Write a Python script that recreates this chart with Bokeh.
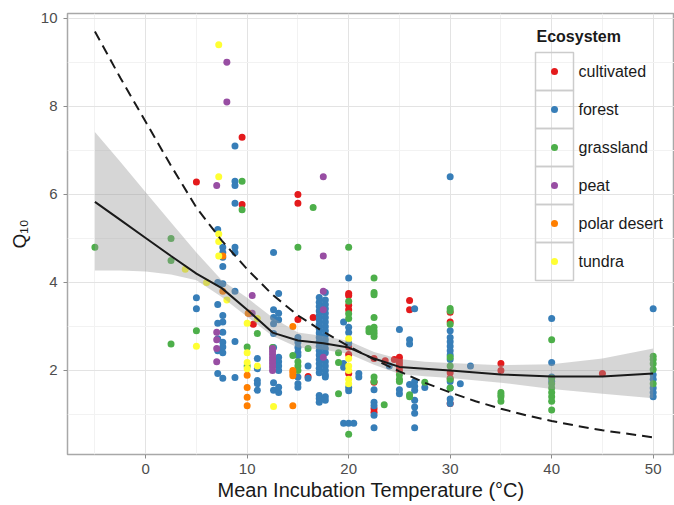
from bokeh.plotting import figure
from bokeh.models import FixedTicker, Range1d
from bokeh.embed import file_html
from bokeh.resources import INLINE
from bokeh.core.properties import value

# ---------------- data ----------------
categories = ["cultivated", "forest", "grassland", "peat", "polar desert", "tundra"]
colors = ["#E41A1C", "#377EB8", "#4DAF4A", "#984EA3", "#FF7F00", "#FFFF33"]

# temperature -> list of Q10 values, one dict per ecosystem
cultivated = {
    5.0: [6.28], 9.5: [7.3, 5.77], 10.2: [3.3], 10.6: [3.05],
    15.0: [6.0, 5.8, 3.16], 16.0: [1.86], 16.5: [3.2],
    20.0: [3.75, 3.7, 3.48, 3.38, 2.53, 2.36, 1.93],
    22.5: [2.27, 1.73, 1.13, 1.05], 23.6: [2.22], 24.5: [2.25],
    25.0: [2.3, 2.22, 2.15, 2.08, 2.0], 26.0: [3.59, 3.38],
    30.0: [3.32, 3.1, 1.95, 1.82, 1.25], 35.0: [2.16, 2.0], 45.0: [1.93],
}
forest = {
    5.0: [3.65, 3.4],
    7.1: [5.2, 4.0, 3.5, 3.07, 2.72, 2.45, 1.93],
    7.6: [4.8, 4.68, 4.57, 4.36, 3.97, 3.25, 3.1, 2.87, 2.64, 2.53, 2.4, 1.82],
    8.8: [7.1, 6.3, 6.2, 5.8, 4.8, 4.68, 3.8, 2.66, 1.84],
    11.0: [2.27, 2.04, 1.77, 1.7, 1.55],
    12.6: [4.68, 3.38, 3.2, 3.06, 2.84, 2.52, 2.22, 1.72, 1.55],
    13.1: [3.75, 3.3, 3.15, 2.3, 2.2, 2.1, 2.0, 1.62, 1.5],
    15.0: [2.75, 2.64, 2.52, 2.41, 2.34, 1.85, 1.7, 1.62],
    16.0: [2.1, 1.82],
    17.1: [3.66, 3.55, 3.45, 3.35, 3.25, 3.15, 3.05, 2.95, 2.85, 2.75, 2.65,
           2.55, 2.45, 2.35, 2.25, 2.15, 2.05, 1.95, 1.43, 1.36, 1.28],
    17.7: [3.77, 3.6, 3.5, 3.4, 3.3, 3.2, 3.1, 3.0, 2.9, 2.8, 2.7, 2.6, 2.5,
           2.4, 2.2, 2.1, 2.0, 1.9, 1.85, 1.4, 1.32],
    19.5: [3.1, 2.16, 2.07, 0.8],
    20.0: [4.1, 2.98, 2.86, 2.62, 1.61, 1.54, 0.8],
    20.5: [0.8], 21.0: [1.93, 1.85],
    22.5: [1.56, 1.28, 1.2, 0.98, 0.7], 24.0: [2.1],
    25.0: [2.93, 1.56, 1.47], 26.0: [2.7, 2.6, 1.68],
    26.5: [3.4, 1.75, 1.64, 1.55, 1.32, 1.17, 1.03, 0.7], 27.5: [1.61],
    30.0: [6.4, 2.9, 2.75, 2.65, 2.55, 2.45, 2.35, 2.25, 1.75, 1.6, 1.35, 1.25],
    31.0: [1.7], 32.0: [2.1],
    40.0: [3.18, 2.18, 1.85, 1.75],
    50.0: [3.4, 1.9, 1.8, 1.6, 1.5, 1.4],
}
grassland = {
    -5.0: [4.8], 2.5: [5.0, 4.5, 2.6], 5.0: [2.9], 9.5: [6.3, 5.65],
    10.0: [2.53, 2.1], 11.0: [2.84], 12.5: [2.52], 14.5: [2.34],
    15.0: [4.8, 2.2, 2.1, 2.0], 16.0: [2.5], 16.5: [5.7], 19.0: [2.4, 2.18, 1.47],
    20.0: [4.8, 3.57, 3.29, 3.18, 0.55],
    22.0: [2.95, 2.88],
    22.5: [4.1, 3.77, 3.72, 3.2, 2.98, 2.9, 2.84, 2.77, 1.85, 1.75],
    23.5: [1.22], 25.0: [1.9, 1.8, 1.75], 26.0: [1.45, 1.4], 27.5: [1.73],
    30.0: [3.41, 3.35, 3.05, 2.3, 2.1, 1.8, 1.6],
    35.0: [1.5, 1.45, 1.4, 1.3],
    40.0: [2.7, 1.82, 1.7, 1.6, 1.5, 1.4, 1.3, 1.1],
    50.0: [2.32, 2.25, 2.15, 2.02, 1.7],
}
peat = {
    7.0: [6.2, 2.87, 2.7, 2.5, 2.2], 8.0: [9.0, 8.1], 10.5: [3.7, 3.3],
    12.5: [2.5, 2.43, 2.36, 2.29, 2.22, 2.15, 2.08, 2.0],
    17.5: [6.4, 4.6, 3.8, 3.38, 2.3],
}
polar_desert = {
    7.6: [4.6, 3.8], 10.0: [1.89, 1.61, 1.39, 1.2], 10.1: [3.3],
    14.5: [3.0, 2.0, 1.95, 1.88, 1.2],
}
tundra = {
    3.9: [4.3], 5.0: [2.55], 6.0: [4.0], 7.2: [9.4, 6.4, 5.1, 4.93, 4.6],
    8.0: [3.6], 10.0: [3.07, 2.4, 2.18, 2.04], 11.0: [3.18, 2.1], 12.6: [1.18],
    20.0: [2.72, 2.27, 2.1, 2.0, 1.8, 1.7],
}
series = [cultivated, forest, grassland, peat, polar_desert, tundra]

# loess fit with confidence band
smooth_temp = [-5, -2.5, 0, 2.5, 5, 7.5, 10, 12.5, 15, 17.5, 20, 22.5, 25, 27.5, 30, 35, 40, 45, 50]
smooth_q10 = [5.83, 5.42, 5.01, 4.6, 4.2, 3.87, 3.38, 2.86, 2.68, 2.62, 2.52, 2.27, 2.08, 2.04, 2.0, 1.91, 1.86, 1.86, 1.93]
smooth_low = [4.27, 4.27, 4.25, 4.18, 4.05, 3.67, 3.22, 2.78, 2.52, 2.47, 2.38, 2.13, 1.92, 1.87, 1.83, 1.72, 1.58, 1.47, 1.37]
smooth_high = [7.42, 6.74, 6.05, 5.36, 4.68, 4.05, 3.65, 3.2, 2.86, 2.78, 2.67, 2.42, 2.26, 2.2, 2.17, 2.12, 2.14, 2.27, 2.5]

# dashed model curve
model_temp = [-5, -2.5, 0, 2.5, 5, 7.5, 10, 12.5, 15, 17.5, 20, 22.5, 25, 27.5, 30, 32.5, 35, 37.5, 40, 42.5, 45, 47.5, 50]
model_q10 = [9.7, 8.65, 7.65, 6.65, 5.7, 4.95, 4.3, 3.72, 3.25, 2.88, 2.55, 2.25, 1.98, 1.72, 1.5, 1.3, 1.13, 0.98, 0.85, 0.74, 0.64, 0.56, 0.48]

x_ticks = [0, 10, 20, 30, 40, 50]
x_minor = [-5, 5, 15, 25, 35, 45]
y_ticks = [2, 4, 6, 8, 10]
y_minor = [1, 3, 5, 7, 9]

# ---------------- figure ----------------
W, H = 674, 505
FL, FT, FR, FB = 67, 13, 0, 51
X0, X1 = -7.7, 52.1
Y0, Y1 = 0.09, 10.11

p = figure(width=W, height=H, output_backend="svg", toolbar_location=None,
           x_range=Range1d(X0, X1), y_range=Range1d(Y0, Y1),
           min_border_left=FL, min_border_top=FT, min_border_right=FR, min_border_bottom=FB)
p.background_fill_color = "white"
p.border_fill_color = "white"
p.outline_line_color = "#a8a8a8"
p.outline_line_width = 1.5

FONT = "Liberation Sans"
p.xaxis.ticker = FixedTicker(ticks=x_ticks, minor_ticks=x_minor)
p.yaxis.ticker = FixedTicker(ticks=y_ticks, minor_ticks=y_minor)
for ax in (p.xaxis, p.yaxis):
    ax.axis_line_color = None
    ax.major_tick_line_color = "#8c8c8c"
    ax.major_tick_in = 0
    ax.major_tick_out = 4
    ax.minor_tick_line_color = None
    ax.major_label_text_font = FONT
    ax.major_label_text_font_size = "15px"
    ax.major_label_text_color = "#4d4d4d"
    ax.axis_label_text_font = FONT
    ax.axis_label_text_font_style = "normal"
    ax.axis_label_text_color = "#1a1a1a"
p.xaxis.axis_label = "Mean Incubation Temperature (°C)"
p.yaxis.axis_label = "Q₁₀"
p.xaxis.axis_label_text_font_size = "20px"
p.yaxis.axis_label_text_font_size = "19px"
p.xaxis.major_label_standoff = 5
p.yaxis.major_label_standoff = 6
p.xaxis.axis_label_standoff = 2
p.yaxis.axis_label_standoff = 8

p.xgrid.grid_line_color = "#e3e3e3"
p.ygrid.grid_line_color = "#e3e3e3"
p.xgrid.minor_grid_line_color = "#f2f2f2"
p.ygrid.minor_grid_line_color = "#f2f2f2"

# points
for data, col in zip(series, colors):
    xs, ys = [], []
    for t, vals in data.items():
        for v in vals:
            xs.append(t)
            ys.append(v)
    p.scatter(xs, ys, size=7, fill_color=col, line_color=None)

# smooth band and line
p.varea(x=smooth_temp, y1=smooth_low, y2=smooth_high, fill_color="#999999", fill_alpha=0.4)
p.line(smooth_temp, smooth_q10, line_color="#1a1a1a", line_width=2)
p.line(model_temp, model_q10, line_color="#1a1a1a", line_width=2, line_dash="10 6")

# ---------------- legend (positions given in pixels, converted) ----------------
FW = W - FL - FR
FH = H - FT - FB
def px_x(px):
    return X0 + (px - FL) / FW * (X1 - X0)
def px_y(py):
    return Y1 - (py - FT) / FH * (Y1 - Y0)

key_left, key_right = 535, 573
key_top, key_h = 52, 38
kx = [(px_x(key_left) + px_x(key_right)) / 2] * len(categories)
ky = [px_y(key_top + key_h * (i + 0.5)) for i in range(len(categories))]
p.rect(x=kx, y=ky, width=px_x(key_right) - px_x(key_left),
       height=key_h / FH * (Y1 - Y0), fill_color=None, line_color="#cccccc", line_width=1.5)
p.scatter(x=kx, y=ky, size=7, fill_color=colors, line_color=None)
p.text(x=[px_x(578)] * len(categories), y=ky, text=categories,
       text_font=value(FONT), text_font_size="16px", text_baseline="middle",
       text_color="#1a1a1a")
p.text(x=[px_x(536)], y=[px_y(36)], text=["Ecosystem"],
       text_font=value(FONT), text_font_size="16px", text_font_style="bold",
       text_baseline="middle", text_color="#1a1a1a")

open("out.html", "w").write(file_html(p, INLINE))
